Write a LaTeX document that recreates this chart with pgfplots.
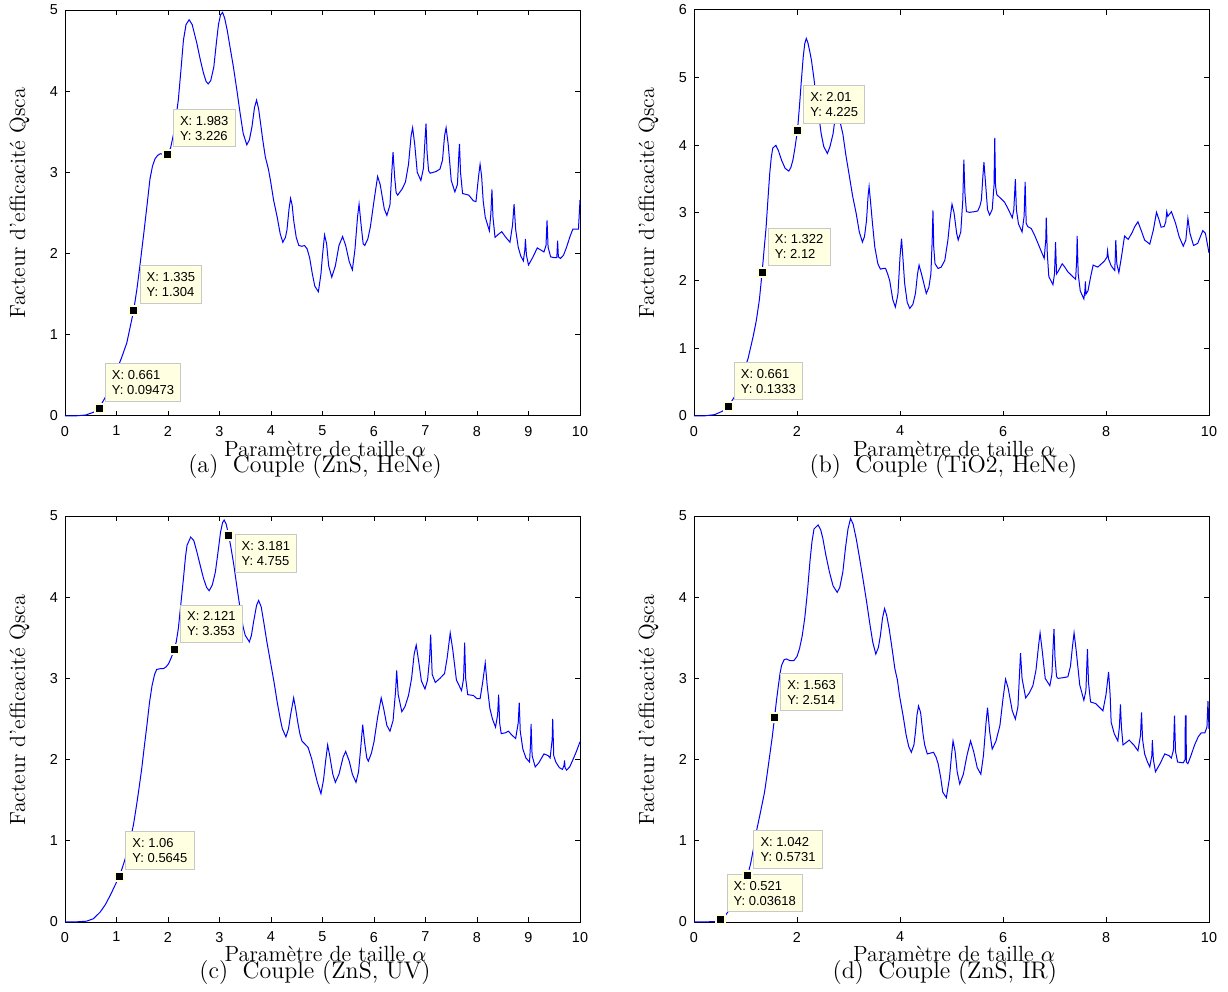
\documentclass[border=0pt]{standalone}
\usepackage{fontspec}
\usepackage{pgfplots}
\pgfplotsset{compat=1.18}
\newfontfamily\arial{Liberation Sans}
\definecolor{tipfill}{HTML}{FFFFE1}
\definecolor{tipborder}{HTML}{C8C8C8}
\definecolor{mblue}{HTML}{0000FF}
\pgfplotsset{
  mystyle/.style={
    scale only axis, width=257.5pt, height=203pt,
    xmin=0, xmax=10, ymin=0,
    axis line style={line width=0.5pt},
    every tick/.style={line width=0.5pt, black},
    major tick length=2.5pt,
    tick align=inside,
    tick label style={font=\arial\fontsize{7.2}{8}\selectfont},
    /pgf/number format/assume math mode=true,
    xticklabel style={yshift=-1.5pt},
    clip=false,
  },
  curve/.style={mblue, line width=0.5pt, mark=none},
  tipmark/.style={only marks, mark=square*, mark size=2.25pt, mark options={draw=tipfill, fill=black, line width=1pt}},
}
\tikzset{
  dtip/.style={draw=tipborder, fill=tipfill, line width=0.5pt, font=\arial\fontsize{6.5}{7.5}\selectfont, align=left, inner xsep=3.3pt, inner ysep=3.3pt, anchor=south west, xshift=2.9pt, yshift=3.3pt},
  dtipdown/.style={dtip, anchor=north west, yshift=-2.4pt},
  mylab/.style={anchor=base, font=\fontsize{11}{13}\selectfont},
  mycap/.style={anchor=base, font=\fontsize{12}{14}\selectfont},
}
\begin{document}
\begin{tikzpicture}
\path[use as bounding box] (0,0) rectangle (614pt,496pt);

% ---------------- (a) ----------------
\begin{axis}[mystyle, at={(32.5pt,288pt)}, anchor=south west, ymax=5, xtick={0,1,...,10}, ytick={0,1,...,5}]
\addplot[curve] coordinates {
(0,0) (0.2,0.001) (0.4,0.012) (0.55,0.045) (0.661,0.0947) (0.8,0.25) (0.95,0.48) (1.1,0.72) (1.2,0.9)
(1.335,1.304) (1.4,1.58) (1.46,1.88) (1.53,2.25) (1.59,2.58) (1.65,2.92) (1.7,3.08) (1.75,3.17) (1.8,3.21)
(1.85,3.23) (1.92,3.22) (1.983,3.226) (2.05,3.30) (2.11,3.48) (2.16,3.70) (2.2,3.89) (2.25,4.25) (2.3,4.63)
(2.35,4.82) (2.41,4.88) (2.47,4.82) (2.56,4.59) (2.63,4.38) (2.69,4.22) (2.74,4.12) (2.78,4.09) (2.83,4.13)
(2.89,4.30) (2.94,4.60) (2.98,4.82) (3.02,4.94) (3.06,4.97) (3.1,4.90) (3.15,4.75) (3.2,4.56) (3.27,4.30)
(3.34,4.00) (3.40,3.73) (3.46,3.48) (3.53,3.34) (3.58,3.40) (3.63,3.56) (3.68,3.80) (3.72,3.89) (3.76,3.78)
(3.79,3.64) (3.84,3.40) (3.89,3.19) (3.95,3.04) (3.99,2.90) (4.05,2.66) (4.12,2.45) (4.18,2.24) (4.23,2.14)
(4.28,2.20) (4.31,2.29) (4.35,2.55) (4.38,2.68) (4.41,2.60) (4.44,2.41) (4.49,2.20) (4.54,2.10) (4.6,2.09)
(4.65,2.10) (4.7,2.06) (4.75,1.95) (4.8,1.76) (4.85,1.60) (4.92,1.53) (4.97,1.75) (5.0,1.98) (5.04,2.23)
(5.08,2.12) (5.12,1.85) (5.18,1.71) (5.25,1.85) (5.32,2.10) (5.39,2.21) (5.45,2.10) (5.52,1.90) (5.58,1.80)
(5.63,2.05) (5.68,2.45) (5.71,2.61) (5.75,2.35) (5.79,2.12) (5.82,2.10) (5.88,2.18) (5.93,2.33) (6.0,2.65)
(6.07,2.95) (6.12,2.85) (6.2,2.55) (6.25,2.47) (6.31,2.60) (6.35,3.05) (6.37,3.25) (6.40,2.95) (6.43,2.75)
(6.46,2.72) (6.55,2.80) (6.61,2.88) (6.67,3.10) (6.72,3.45) (6.75,3.55) (6.79,3.35) (6.84,3.00) (6.91,2.90)
(6.96,3.05) (6.99,3.40) (7.01,3.60) (7.03,3.25) (7.06,3.02) (7.09,2.99) (7.2,3.01) (7.28,3.04) (7.33,3.15)
(7.37,3.45) (7.40,3.55) (7.44,3.35) (7.5,2.90) (7.57,2.76) (7.62,2.85) (7.65,3.25) (7.66,3.35) (7.68,3.00)
(7.72,2.74) (7.84,2.72) (7.93,2.65) (7.98,2.64) (8.03,2.95) (8.06,3.10) (8.09,2.95) (8.12,2.65) (8.16,2.45)
(8.24,2.28) (8.27,2.50) (8.29,2.79) (8.31,2.45) (8.35,2.20) (8.42,2.24) (8.48,2.27) (8.56,2.20) (8.64,2.14)
(8.69,2.35) (8.72,2.61) (8.75,2.30) (8.80,2.08) (8.85,1.97) (8.90,1.91) (8.93,2.05) (8.94,2.18) (8.96,1.98)
(9.0,1.86) (9.08,1.95) (9.17,2.07) (9.25,2.04) (9.30,2.02) (9.34,2.10) (9.36,2.41) (9.38,2.08) (9.43,1.96)
(9.50,1.95) (9.55,1.95) (9.565,2.16) (9.58,1.96) (9.62,1.94) (9.68,1.98) (9.74,2.08) (9.80,2.20) (9.86,2.30)
(9.92,2.30) (9.97,2.30) (10.0,2.66)
};
\node[dtip] at (axis cs:0.661,0.09473) {X: 0.661\\Y: 0.09473};
\node[dtip] at (axis cs:1.335,1.304) {X: 1.335\\Y: 1.304};
\node[dtip] at (axis cs:1.983,3.226) {X: 1.983\\Y: 3.226};
\addplot[tipmark] coordinates {(0.661,0.09473) (1.335,1.304) (1.983,3.226)};
\end{axis}

% ---------------- (b) ----------------
\begin{axis}[mystyle, at={(347pt,288pt)}, anchor=south west, ymax=6, xtick={0,2,...,10}, ytick={0,1,...,6}]
\addplot[curve] coordinates {
(0,0) (0.2,0.002) (0.4,0.02) (0.55,0.07) (0.661,0.1333) (0.8,0.3) (0.95,0.62) (1.05,0.85) (1.15,1.18)
(1.21,1.41) (1.27,1.72) (1.322,2.12) (1.36,2.45) (1.40,2.79) (1.44,3.25) (1.47,3.58) (1.5,3.82) (1.53,3.96)
(1.59,4.00) (1.64,3.92) (1.70,3.78) (1.77,3.66) (1.84,3.62) (1.88,3.67) (1.92,3.78) (1.96,3.96) (2.01,4.225)
(2.05,4.6) (2.08,4.91) (2.12,5.3) (2.15,5.5) (2.18,5.58) (2.21,5.52) (2.25,5.38) (2.28,5.26) (2.33,4.98)
(2.38,4.67) (2.43,4.40) (2.47,4.17) (2.52,3.98) (2.59,3.88) (2.64,3.98) (2.70,4.17) (2.74,4.40) (2.78,4.58)
(2.82,4.50) (2.85,4.30) (2.89,4.17) (2.95,3.85) (3.02,3.53) (3.08,3.25) (3.15,2.99) (3.21,2.72) (3.27,2.57)
(3.31,2.65) (3.35,2.89) (3.38,3.25) (3.40,3.39) (3.43,3.15) (3.46,2.89) (3.51,2.50) (3.57,2.25) (3.62,2.17)
(3.67,2.18) (3.72,2.18) (3.76,2.10) (3.80,2.00) (3.86,1.72) (3.91,1.61) (3.96,1.80) (4.0,2.35) (4.03,2.62)
(4.06,2.30) (4.09,1.96) (4.14,1.68) (4.19,1.59) (4.25,1.65) (4.30,1.81) (4.34,2.10) (4.37,2.23) (4.41,2.12)
(4.45,2.0) (4.51,1.81) (4.56,1.90) (4.60,2.10) (4.625,2.6) (4.64,3.04) (4.655,2.5) (4.68,2.25) (4.74,2.18)
(4.80,2.20) (4.87,2.30) (4.93,2.60) (4.97,2.90) (5.01,3.13) (5.05,3.00) (5.10,2.70) (5.13,2.60) (5.18,2.72)
(5.22,3.20) (5.24,3.79) (5.26,3.30) (5.29,3.02) (5.35,3.01) (5.45,3.02) (5.51,3.03) (5.55,3.10) (5.58,3.19)
(5.61,3.55) (5.63,3.75) (5.66,3.45) (5.70,3.05) (5.74,2.97) (5.79,3.05) (5.825,3.4) (5.84,4.11) (5.855,3.4)
(5.88,3.27) (5.95,3.22) (6.03,3.16) (6.10,3.06) (6.18,2.93) (6.21,3.05) (6.24,3.50) (6.26,3.05) (6.30,2.84)
(6.37,2.72) (6.41,2.95) (6.43,3.46) (6.45,2.85) (6.48,2.80) (6.55,2.77) (6.62,2.66) (6.68,2.55) (6.75,2.42)
(6.80,2.33) (6.83,2.6) (6.84,2.93) (6.86,2.40) (6.89,2.06) (6.97,1.94) (7.0,2.1) (7.02,2.57) (7.04,2.10)
(7.08,2.15) (7.15,2.25) (7.20,2.20) (7.26,2.13) (7.34,2.07) (7.41,2.02) (7.43,2.30) (7.44,2.66) (7.46,2.10)
(7.50,1.85) (7.57,1.73) (7.59,1.85) (7.60,1.99) (7.61,1.80) (7.65,1.85) (7.70,2.05) (7.75,2.23) (7.84,2.20)
(7.97,2.29) (8.02,2.35) (8.03,2.44) (8.05,2.32) (8.10,2.22) (8.17,2.15) (8.18,2.35) (8.19,2.60) (8.21,2.25)
(8.25,2.12) (8.30,2.35) (8.36,2.66) (8.43,2.61) (8.50,2.70) (8.56,2.80) (8.62,2.87) (8.68,2.75) (8.75,2.60)
(8.85,2.54) (8.92,2.75) (8.98,3.01) (9.03,2.90) (9.07,2.79) (9.13,2.80) (9.16,2.87) (9.18,3.02) (9.20,2.95)
(9.27,3.02) (9.35,2.85) (9.42,2.65) (9.50,2.51) (9.55,2.60) (9.59,2.92) (9.63,2.70) (9.70,2.52) (9.78,2.55)
(9.88,2.74) (9.93,2.70) (10.0,2.41)
};
\node[dtip] at (axis cs:0.661,0.1333) {X: 0.661\\Y: 0.1333};
\node[dtip] at (axis cs:1.322,2.12) {X: 1.322\\Y: 2.12};
\node[dtip] at (axis cs:2.01,4.225) {X: 2.01\\Y: 4.225};
\addplot[tipmark] coordinates {(0.661,0.1333) (1.322,2.12) (2.01,4.225)};
\end{axis}

% ---------------- (c) ----------------
\begin{axis}[mystyle, at={(32.5pt,35pt)}, anchor=south west, ymax=5, xtick={0,1,...,10}, ytick={0,1,...,5}]
\addplot[curve] coordinates {
(0,0) (0.2,0.001) (0.42,0.01) (0.55,0.04) (0.68,0.12) (0.78,0.21) (0.88,0.33) (0.97,0.45) (1.06,0.5645)
(1.16,0.76) (1.26,0.99) (1.33,1.2) (1.39,1.44) (1.44,1.66) (1.49,1.89) (1.54,2.16) (1.59,2.42) (1.64,2.70)
(1.69,2.91) (1.74,3.05) (1.78,3.11) (1.85,3.12) (1.91,3.12) (1.96,3.14) (2.01,3.18) (2.06,3.25) (2.121,3.353)
(2.16,3.45) (2.2,3.61) (2.25,3.92) (2.3,4.23) (2.34,4.50) (2.37,4.64) (2.44,4.74) (2.50,4.70) (2.56,4.56)
(2.63,4.38) (2.69,4.23) (2.75,4.12) (2.80,4.08) (2.86,4.15) (2.92,4.31) (2.97,4.55) (3.02,4.80) (3.06,4.92)
(3.09,4.95) (3.13,4.90) (3.181,4.755) (3.22,4.62) (3.27,4.43) (3.34,4.12) (3.40,3.86) (3.46,3.63) (3.50,3.53)
(3.58,3.45) (3.62,3.53) (3.66,3.69) (3.72,3.90) (3.76,3.96) (3.81,3.88) (3.86,3.69) (3.92,3.45) (3.99,3.20)
(4.06,2.95) (4.12,2.71) (4.18,2.50) (4.22,2.38) (4.29,2.28) (4.34,2.38) (4.38,2.55) (4.44,2.76) (4.48,2.62)
(4.52,2.46) (4.56,2.32) (4.60,2.23) (4.66,2.19) (4.72,2.15) (4.79,2.01) (4.85,1.85) (4.90,1.72) (4.97,1.58)
(5.02,1.75) (5.06,1.98) (5.10,2.18) (5.14,2.05) (5.2,1.82) (5.25,1.72) (5.32,1.82) (5.40,2.03) (5.45,2.10)
(5.52,1.98) (5.58,1.82) (5.65,1.72) (5.70,1.85) (5.75,2.20) (5.78,2.43) (5.82,2.20) (5.86,2.02) (5.89,1.98)
(5.95,2.08) (6.0,2.22) (6.07,2.52) (6.14,2.76) (6.19,2.62) (6.25,2.42) (6.31,2.35) (6.37,2.48) (6.42,2.85)
(6.44,3.10) (6.47,2.80) (6.54,2.59) (6.60,2.65) (6.67,2.79) (6.73,3.00) (6.78,3.30) (6.82,3.41) (6.87,3.20)
(6.92,2.97) (6.99,2.87) (7.04,2.98) (7.08,3.25) (7.10,3.54) (7.13,3.05) (7.19,2.95) (7.28,3.00) (7.37,3.06)
(7.42,3.25) (7.48,3.56) (7.53,3.35) (7.60,2.98) (7.70,2.85) (7.74,3.00) (7.76,3.44) (7.78,3.00) (7.82,2.80)
(7.93,2.79) (8.0,2.75) (8.06,2.75) (8.11,2.95) (8.16,3.19) (8.20,2.90) (8.25,2.63) (8.30,2.50) (8.36,2.40)
(8.40,2.55) (8.42,2.80) (8.44,2.45) (8.47,2.32) (8.55,2.33) (8.61,2.35) (8.68,2.30) (8.75,2.26) (8.80,2.45)
(8.82,2.70) (8.84,2.35) (8.89,2.13) (8.95,2.02) (9.02,1.97) (9.04,2.20) (9.05,2.44) (9.07,2.05) (9.13,1.91)
(9.20,1.96) (9.30,2.07) (9.38,2.05) (9.42,2.02) (9.46,2.25) (9.47,2.50) (9.49,2.05) (9.53,1.97) (9.60,1.90)
(9.66,1.88) (9.69,1.93) (9.70,1.99) (9.71,1.90) (9.74,1.87) (9.80,1.91) (9.87,2.01) (9.93,2.10) (10.0,2.22)
};
\node[dtip] at (axis cs:1.06,0.5645) {X: 1.06\\Y: 0.5645};
\node[dtip] at (axis cs:2.121,3.353) {X: 2.121\\Y: 3.353};
\node[dtipdown] at (axis cs:3.181,4.755) {X: 3.181\\Y: 4.755};
\addplot[tipmark] coordinates {(1.06,0.5645) (2.121,3.353) (3.181,4.755)};
\end{axis}

% ---------------- (d) ----------------
\begin{axis}[mystyle, at={(347pt,35pt)}, anchor=south west, ymax=5, xtick={0,2,...,10}, ytick={0,1,...,5}]
\addplot[curve] coordinates {
(0,0) (0.2,0.0005) (0.4,0.006) (0.521,0.03618) (0.62,0.09) (0.72,0.18) (0.82,0.29) (0.93,0.42) (1.042,0.5731)
(1.1,0.72) (1.16,0.92) (1.21,1.11) (1.29,1.35) (1.37,1.60) (1.42,1.82) (1.47,2.05) (1.52,2.28) (1.563,2.514)
(1.60,2.72) (1.63,2.87) (1.67,3.06) (1.70,3.16) (1.75,3.23) (1.79,3.24) (1.86,3.22) (1.94,3.22) (2.0,3.27)
(2.05,3.37) (2.10,3.52) (2.15,3.74) (2.20,4.05) (2.25,4.43) (2.29,4.68) (2.33,4.84) (2.41,4.89) (2.46,4.83)
(2.50,4.73) (2.56,4.52) (2.63,4.31) (2.70,4.14) (2.78,4.06) (2.83,4.12) (2.89,4.31) (2.94,4.60) (2.99,4.84)
(3.04,4.97) (3.09,4.90) (3.15,4.72) (3.21,4.50) (3.28,4.23) (3.35,3.95) (3.41,3.69) (3.47,3.45) (3.53,3.30)
(3.58,3.38) (3.62,3.53) (3.66,3.74) (3.70,3.86) (3.74,3.78) (3.79,3.61) (3.85,3.35) (3.90,3.12) (3.95,2.98)
(3.99,2.79) (4.06,2.54) (4.12,2.30) (4.17,2.16) (4.22,2.09) (4.27,2.18) (4.30,2.34) (4.33,2.55) (4.36,2.66)
(4.40,2.58) (4.45,2.30) (4.48,2.18) (4.53,2.07) (4.59,2.08) (4.65,2.09) (4.70,2.03) (4.74,1.95) (4.79,1.78)
(4.83,1.60) (4.90,1.53) (4.96,1.77) (5.0,2.05) (5.03,2.23) (5.07,2.10) (5.11,1.85) (5.16,1.70) (5.23,1.82)
(5.30,2.05) (5.37,2.23) (5.43,2.10) (5.50,1.90) (5.57,1.82) (5.62,2.05) (5.67,2.45) (5.70,2.64) (5.74,2.35)
(5.79,2.13) (5.86,2.22) (5.94,2.42) (6.0,2.75) (6.05,2.99) (6.10,2.88) (6.18,2.60) (6.24,2.50) (6.29,2.65)
(6.32,3.05) (6.34,3.31) (6.37,3.00) (6.44,2.76) (6.51,2.82) (6.58,2.91) (6.64,3.10) (6.69,3.40) (6.72,3.56)
(6.76,3.35) (6.82,3.00) (6.91,2.91) (6.95,3.05) (6.97,3.35) (6.99,3.61) (7.01,3.25) (7.04,3.02) (7.07,3.00)
(7.18,3.01) (7.26,3.02) (7.31,3.15) (7.35,3.40) (7.38,3.56) (7.42,3.35) (7.49,2.92) (7.57,2.73) (7.61,2.85)
(7.63,3.20) (7.64,3.36) (7.66,2.95) (7.70,2.71) (7.80,2.69) (7.88,2.64) (7.94,2.60) (8.0,2.80) (8.05,3.08)
(8.08,2.80) (8.10,2.46) (8.16,2.32) (8.23,2.23) (8.26,2.40) (8.28,2.68) (8.30,2.40) (8.33,2.18) (8.45,2.24)
(8.54,2.18) (8.62,2.11) (8.67,2.30) (8.69,2.58) (8.71,2.25) (8.75,2.07) (8.80,1.98) (8.85,1.91) (8.89,2.05)
(8.90,2.24) (8.92,2.00) (8.96,1.85) (9.05,1.95) (9.14,2.07) (9.22,2.05) (9.27,2.02) (9.31,2.12) (9.33,2.54)
(9.35,2.10) (9.39,1.97) (9.50,1.96) (9.535,2.0) (9.54,2.54) (9.555,2.54) (9.56,1.97) (9.59,1.95) (9.65,2.05)
(9.72,2.18) (9.79,2.28) (9.85,2.33) (9.92,2.33) (9.96,2.40) (9.98,2.72) (10.0,2.38)
};
\node[dtip] at (axis cs:0.521,0.03618) {X: 0.521\\Y: 0.03618};
\node[dtip] at (axis cs:1.042,0.5731) {X: 1.042\\Y: 0.5731};
\node[dtip] at (axis cs:1.563,2.514) {X: 1.563\\Y: 2.514};
\addplot[tipmark] coordinates {(0.521,0.03618) (1.042,0.5731) (1.563,2.514)};
\end{axis}

% labels
\node[mylab, rotate=90] at (12.5pt,394.5pt) {Facteur d'efficacité Qsca};
\node[mylab, rotate=90] at (327pt,394.5pt) {Facteur d'efficacité Qsca};
\node[mylab, rotate=90] at (12.5pt,141pt) {Facteur d'efficacité Qsca};
\node[mylab, rotate=90] at (327pt,141pt) {Facteur d'efficacité Qsca};
\node[mylab] at (162.5pt,267.5pt) {Paramètre de taille $\alpha$};
\node[mylab] at (477pt,267.5pt) {Paramètre de taille $\alpha$};
\node[mylab] at (162.75pt,15.2pt) {Paramètre de taille $\alpha$};
\node[mylab] at (477pt,15.2pt) {Paramètre de taille $\alpha$};
\node[mycap] at (157.5pt,259.5pt) {(a)\hspace{0.6em}Couple (ZnS, HeNe)};
\node[mycap] at (471.75pt,259.5pt) {(b)\hspace{0.6em}Couple (TiO2, HeNe)};
\node[mycap] at (157.5pt,6.85pt) {(c)\hspace{0.6em}Couple (ZnS, UV)};
\node[mycap] at (472.4pt,6.85pt) {(d)\hspace{0.6em}Couple (ZnS, IR)};
\end{tikzpicture}
\end{document}
